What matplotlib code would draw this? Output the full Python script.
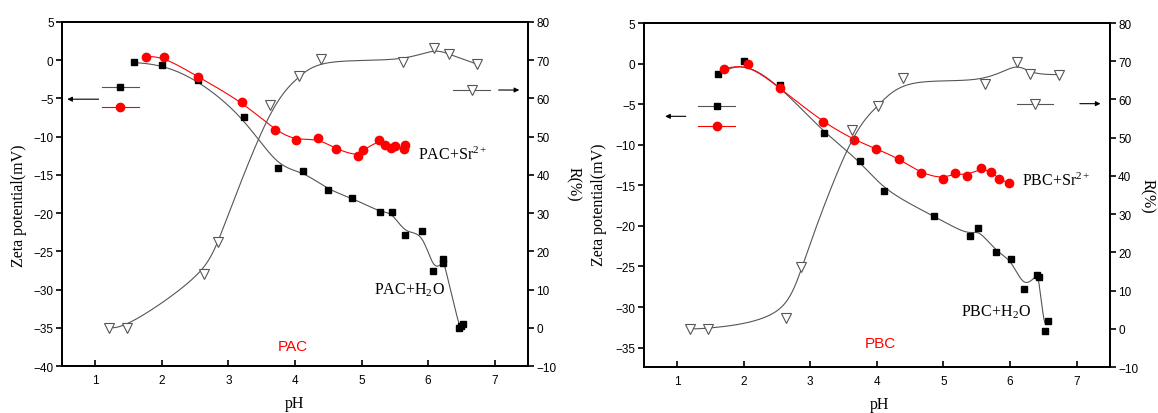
import numpy as np
import matplotlib
matplotlib.use('Agg')
import matplotlib.pyplot as plt

plt.rcParams['font.family'] = ['Liberation Sans', 'DejaVu Sans']
plt.rcParams['mathtext.fontset'] = 'stix'

# ---- PAC panel data ----
pac_h2o_ph = [1.58, 2.01, 2.55, 3.23, 3.74, 4.12, 4.50, 4.86, 5.28, 5.46, 5.66,
              5.91, 6.08, 6.22, 6.23, 6.47, 6.49, 6.53]
pac_h2o_zeta = [-0.3, -0.6, -2.6, -7.4, -14.1, -14.5, -17.0, -18.0, -19.9, -19.85,
                -22.8, -22.3, -27.6, -26.5, -26.0, -35.0, -34.8, -34.5]
pac_sr_ph = [1.77, 2.03, 2.55, 3.21, 3.70, 4.01, 4.34, 4.61, 4.95, 5.02, 5.26,
             5.35, 5.45, 5.51, 5.64, 5.66]
pac_sr_zeta = [0.48, 0.44, -2.2, -5.46, -9.16, -10.5, -10.2, -11.6, -12.57, -11.8,
               -10.5, -11.1, -11.5, -11.2, -11.6, -11.1]
pac_r_ph = [1.20, 1.47, 2.64, 2.85, 3.62, 4.06, 4.39, 5.63, 6.09, 6.31, 6.73]
pac_r = [0.0, 0.0, 14.0, 22.5, 58.3, 65.8, 70.3, 69.6, 73.1, 71.6, 69.0]

# ---- PBC panel data ----
pbc_h2o_ph = [1.61, 2.00, 2.54, 3.20, 3.75, 4.11, 4.86, 5.40, 5.52, 5.79, 6.02,
              6.21, 6.40, 6.43, 6.52, 6.57]
pbc_h2o_zeta = [-1.3, 0.3, -2.7, -8.5, -12.0, -15.7, -18.8, -21.3, -20.3, -23.2,
                -24.1, -27.8, -26.0, -26.3, -32.9, -31.7]
pbc_sr_ph = [1.70, 2.06, 2.54, 3.19, 3.66, 3.99, 4.33, 4.66, 4.99, 5.17, 5.35,
             5.56, 5.72, 5.83, 5.99]
pbc_sr_zeta = [-0.66, 0.0, -3.0, -7.23, -9.4, -10.5, -11.7, -13.5, -14.2, -13.5,
               -13.8, -12.9, -13.35, -14.2, -14.75]
pbc_r_ph = [1.20, 1.47, 2.64, 2.86, 3.63, 4.02, 4.40, 5.63, 6.10, 6.30, 6.73]
pbc_r = [0.0, 0.0, 2.7, 16.2, 52.1, 58.2, 65.7, 64.1, 69.9, 66.6, 66.5]

GREY = '#555555'
RED = '#ff0000'
SERIF = 'Liberation Serif'


def bspline(x, y, n=24):
    """Clamped uniform cubic B-spline using the points as control points."""
    P = np.column_stack([x, y]).astype(float)
    P = np.vstack([P[0], P[0], P, P[-1], P[-1]])
    M = np.array([[-1, 3, -3, 1],
                  [3, -6, 3, 0],
                  [-3, 0, 3, 0],
                  [1, 4, 1, 0]]) / 6.0
    t = np.linspace(0, 1, n)
    T = np.column_stack([t**3, t**2, t, np.ones_like(t)])
    segs = [T @ M @ P[i:i + 4] for i in range(len(P) - 3)]
    curve = np.vstack(segs)
    return curve[:, 0], curve[:, 1]


def panel(rect, name, h2o_ph, h2o_z, sr_ph, sr_z, r_ph, r, zlim,
          h2o_txt, sr_txt, name_xy, leftkey, rightkey):
    ax = fig.add_axes(rect)
    ax2 = ax.twinx()

    # zeta potential curves
    ax.plot(*bspline(h2o_ph, h2o_z), color=GREY, lw=0.8)
    ax.plot(h2o_ph, h2o_z, 's', color='k', ms=5, ls='none')
    ax.plot(*bspline(sr_ph, sr_z), color=RED, lw=0.8)
    ax.plot(sr_ph, sr_z, 'o', color=RED, ms=6, ls='none')

    # removal rate curve
    ax2.plot(*bspline(r_ph, r), color=GREY, lw=0.8)
    ax2.plot(r_ph, r, 'v', ms=7.5, mfc='white', mec=GREY, mew=0.8, ls='none')

    # axis keys with arrows
    (kx0, kx1, ky_sq, ky_ci, ax_from, ax_to, ay) = leftkey
    ax.plot([kx0, kx1], [ky_sq, ky_sq], color=GREY, lw=0.8)
    ax.plot((kx0 + kx1) / 2, ky_sq, 's', color='k', ms=5)
    ax.plot([kx0, kx1], [ky_ci, ky_ci], color=RED, lw=0.8)
    ax.plot((kx0 + kx1) / 2, ky_ci, 'o', color=RED, ms=6)
    ax.annotate('', xy=(ax_to, ay), xytext=(ax_from, ay),
                arrowprops=dict(arrowstyle='-|>', color='k', lw=0.8,
                                mutation_scale=7, shrinkA=0, shrinkB=0))
    (rx0, rx1, ry, rax_from, rax_to) = rightkey
    ax2.plot([rx0, rx1], [ry, ry], color=GREY, lw=0.8)
    ax2.plot((rx0 + rx1) / 2, ry, 'v', ms=7.5, mfc='white', mec=GREY, mew=0.8)
    ax2.annotate('', xy=(rax_to, ry), xytext=(rax_from, ry),
                 arrowprops=dict(arrowstyle='-|>', color='k', lw=0.8,
                                 mutation_scale=7, shrinkA=0, shrinkB=0))

    # labels inside the plot
    ax.text(h2o_txt[0], h2o_txt[1], r'%s+H$_{\mathregular{2}}$O' % name,
            family=SERIF, fontsize=11.5, va='center', ha='left')
    ax.text(sr_txt[0], sr_txt[1], r'%s+Sr$^{\mathregular{2+}}$' % name,
            family=SERIF, fontsize=11.5, va='center', ha='left')
    ax.text(name_xy[0], name_xy[1], name, color=RED, fontsize=11,
            va='center', ha='center')

    ax.set_xlim(0.5, 7.5)
    ax.set_yticks(np.arange(-40, 6, 5))
    ax.set_ylim(*zlim)
    ax2.set_ylim(-10, 80)
    ax2.set_yticks(np.arange(-10, 81, 10))
    ax.set_xticks(range(1, 8))

    for a in (ax, ax2):
        for sp in a.spines.values():
            sp.set_linewidth(1.3)
    ax.tick_params(axis='x', direction='in', length=4, width=1.2, pad=6,
                   labelsize=8.5)
    ax.tick_params(axis='y', direction='out', length=4, width=1.2, pad=2,
                   labelsize=8.5)
    ax2.tick_params(axis='y', direction='out', length=4, width=1.2, pad=2,
                    labelsize=8.5)

    ax.set_xlabel('pH', family=SERIF, fontsize=11.5)
    ax.set_ylabel('Zeta potential(mV)', family=SERIF, fontsize=11.5)
    ax2.set_ylabel('R(%)', family=SERIF, fontsize=11.5, rotation=270,
                   va='bottom')
    return ax, ax2


fig = plt.figure(figsize=(11.58, 4.14), dpi=100)

ax, ax2 = panel([0.0535, 0.1135, 0.4024, 0.831], 'PAC',
                pac_h2o_ph, pac_h2o_zeta, pac_sr_ph, pac_sr_zeta, pac_r_ph, pac_r,
                (-40, 5), (5.19, -30.0), (5.85, -12.3), (3.97, -37.4),
                (1.105, 1.65, -3.53, -6.15, 1.05, 0.58, -5.1),
                (6.38, 6.93, 62.2, 7.06, 7.37))
ax.xaxis.set_label_coords(0.5, -0.084)
ax.yaxis.set_label_coords(-0.075, 0.47)
ax2.yaxis.set_label_coords(1.08, 0.53)

bx, bx2 = panel([0.556, 0.111, 0.4024, 0.831], 'PBC',
                pbc_h2o_ph, pbc_h2o_zeta, pbc_sr_ph, pbc_sr_zeta, pbc_r_ph, pbc_r,
                (-37.4, 5), (5.27, -30.6), (6.18, -14.4), (4.05, -34.4),
                (1.32, 1.87, -5.26, -7.73, 1.13, 0.82, -6.5),
                (6.10, 6.65, 58.9, 7.05, 7.36))
bx.xaxis.set_label_coords(0.506, -0.084)
bx.yaxis.set_label_coords(-0.079, 0.474)
bx2.yaxis.set_label_coords(1.062, 0.50)

fig.savefig('out.png', dpi=100)
